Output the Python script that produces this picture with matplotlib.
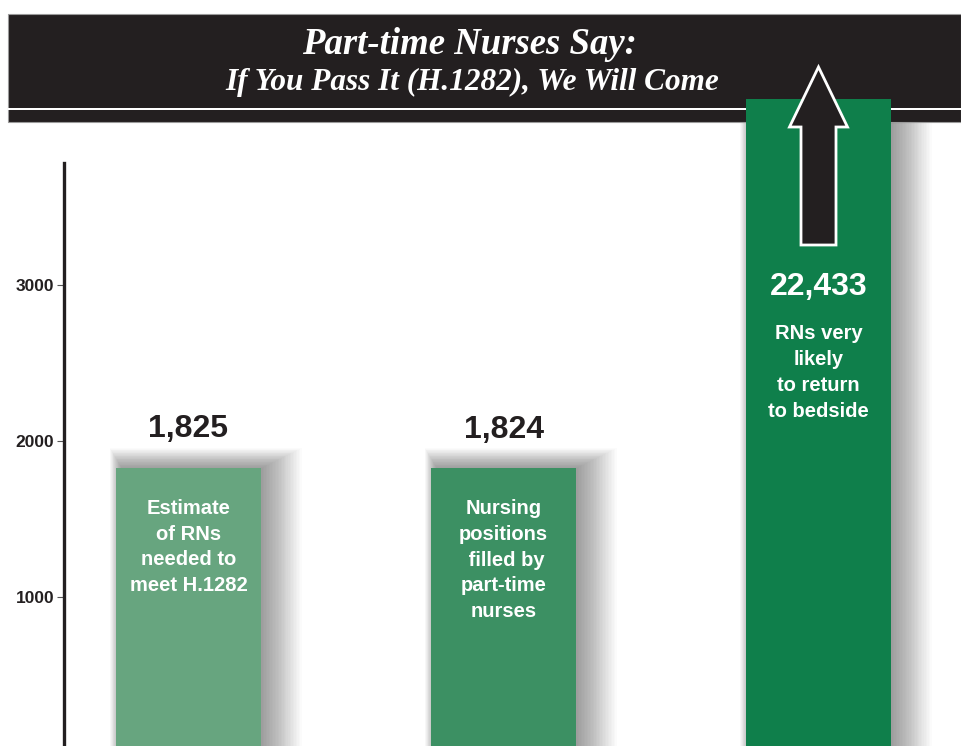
import numpy as np
import matplotlib
matplotlib.use("Agg")
import matplotlib.pyplot as plt
from matplotlib.patches import Rectangle, Polygon

# data
categories = ["Estimate\nof RNs\nneeded to\nmeet H.1282",
              "Nursing\npositions\n filled by\npart-time\nnurses",
              "RNs very\nlikely\nto return\nto bedside"]
values = [1825, 1824, 22433]
value_labels = ["1,825", "1,824", "22,433"]
bar_colors = ["#67a57f", "#3c9063", "#0f7f4b"]
yticks = [1000, 2000, 3000]
title1 = "Part-time Nurses Say:"
title2 = "If You Pass It (H.1282), We Will Come"

DARK = "#231f20"
W, H = 961, 746
BREAK = 4190          # the big bar is cut off here (runs into the header)

fig = plt.figure(figsize=(W / 100, H / 100), dpi=100)
fig.patch.set_facecolor("white")

# header band (figure level, below the axes so the big bar overlaps it)
hdr = Rectangle((8 / W, 1 - 122 / H), (W - 8) / W, 108 / H, transform=fig.transFigure,
                facecolor=DARK, edgecolor="#9a9a9a", lw=0.8, zorder=-2)
fig.patches.append(hdr)
fig.patches.append(Rectangle((8 / W, 1 - 110 / H), (W - 8) / W, 2.2 / H,
                             transform=fig.transFigure, facecolor="white",
                             edgecolor="none", zorder=-1))

ax = fig.add_axes([0, 0, 1, 1])
ax.set_facecolor("none")
px_x, px_y = 1 / 315, 1 / 0.156     # data units per pixel
ax.set_xlim(-188.5 * px_x, (W - 188.5) * px_x)
ax.set_ylim((753 - H) * px_y, 753 * px_y)

x = np.arange(len(values))
width = 145 * px_x
shown = [min(v, BREAK) for v in values]
hdr_bottom = (753 - 123) * px_y

# soft drop shadow, mostly to the right and above
for i in range(28):
    e = i * 1.5
    left = x - width / 2 + (6 - 0.3 * e) * px_x
    tops = [min(s + 0.5 * e * px_y, hdr_bottom) for s in shown]
    ax.bar(left, tops, width=width + 1.3 * e * px_x - 6 * px_x, align="edge",
           color="black", alpha=0.016, lw=0, zorder=1)

ax.bar(x, shown, width=width, color=bar_colors, lw=0, zorder=2)

txt = dict(family="Liberation Sans", fontweight="bold", ha="center", zorder=4)
for xi, v, lab, cat in zip(x, values, value_labels, categories):
    if v > BREAK:
        ax.annotate(lab, (xi, BREAK), xytext=(0, -135), textcoords="offset points",
                    va="center", fontsize=23, color="white", **txt)
        ax.annotate(cat, (xi, BREAK), xytext=(0, -162), textcoords="offset points",
                    va="top", fontsize=14.5, color="white", linespacing=1.45, **txt)
    else:
        ax.annotate(lab, (xi, v), xytext=(0, 28), textcoords="offset points",
                    va="center", fontsize=23, color=DARK, **txt)
        ax.annotate(cat, (xi, v), xytext=(0, -22), textcoords="offset points",
                    va="top", fontsize=14.5, color="white", linespacing=1.45, **txt)

# upward arrow on the big bar
bx = x[2]
tip, base, bottom = (753 - 67) * px_y, (753 - 127) * px_y, (753 - 245) * px_y
hw, sw = 29 * px_x, 17.5 * px_x
arrow = Polygon([(bx, tip), (bx + hw, base), (bx + sw, base), (bx + sw, bottom),
                 (bx - sw, bottom), (bx - sw, base), (bx - hw, base)], closed=True,
                facecolor=DARK, edgecolor="white", lw=2, joinstyle="miter",
                zorder=5, clip_on=False)
ax.add_patch(arrow)

# axis
for s in ["top", "right", "bottom"]:
    ax.spines[s].set_visible(False)
ax.spines["left"].set_position(("data", (64 - 188.5) * px_x))
ax.spines["left"].set_bounds((753 - H) * px_y, (753 - 163) * px_y)
ax.spines["left"].set_linewidth(2.4)
ax.spines["left"].set_color(DARK)
ax.set_xticks([])
ax.set_yticks(yticks)
ax.set_yticklabels([str(t) for t in yticks], fontsize=12.5, fontweight="bold",
                   color=DARK, family="Liberation Sans")
ax.tick_params(axis="y", length=5, width=0.8, color="#555555", pad=2)

fig.text(469 / W, 1 - 45 / H, title1, ha="center", va="center", fontsize=26.5,
         fontweight="bold", fontstyle="italic", family="Liberation Serif", color="white")
fig.text(472 / W, 1 - 82 / H, title2, ha="center", va="center", fontsize=22.5,
         fontweight="bold", fontstyle="italic", family="Liberation Serif", color="white")

fig.savefig("out.png", dpi=100)
